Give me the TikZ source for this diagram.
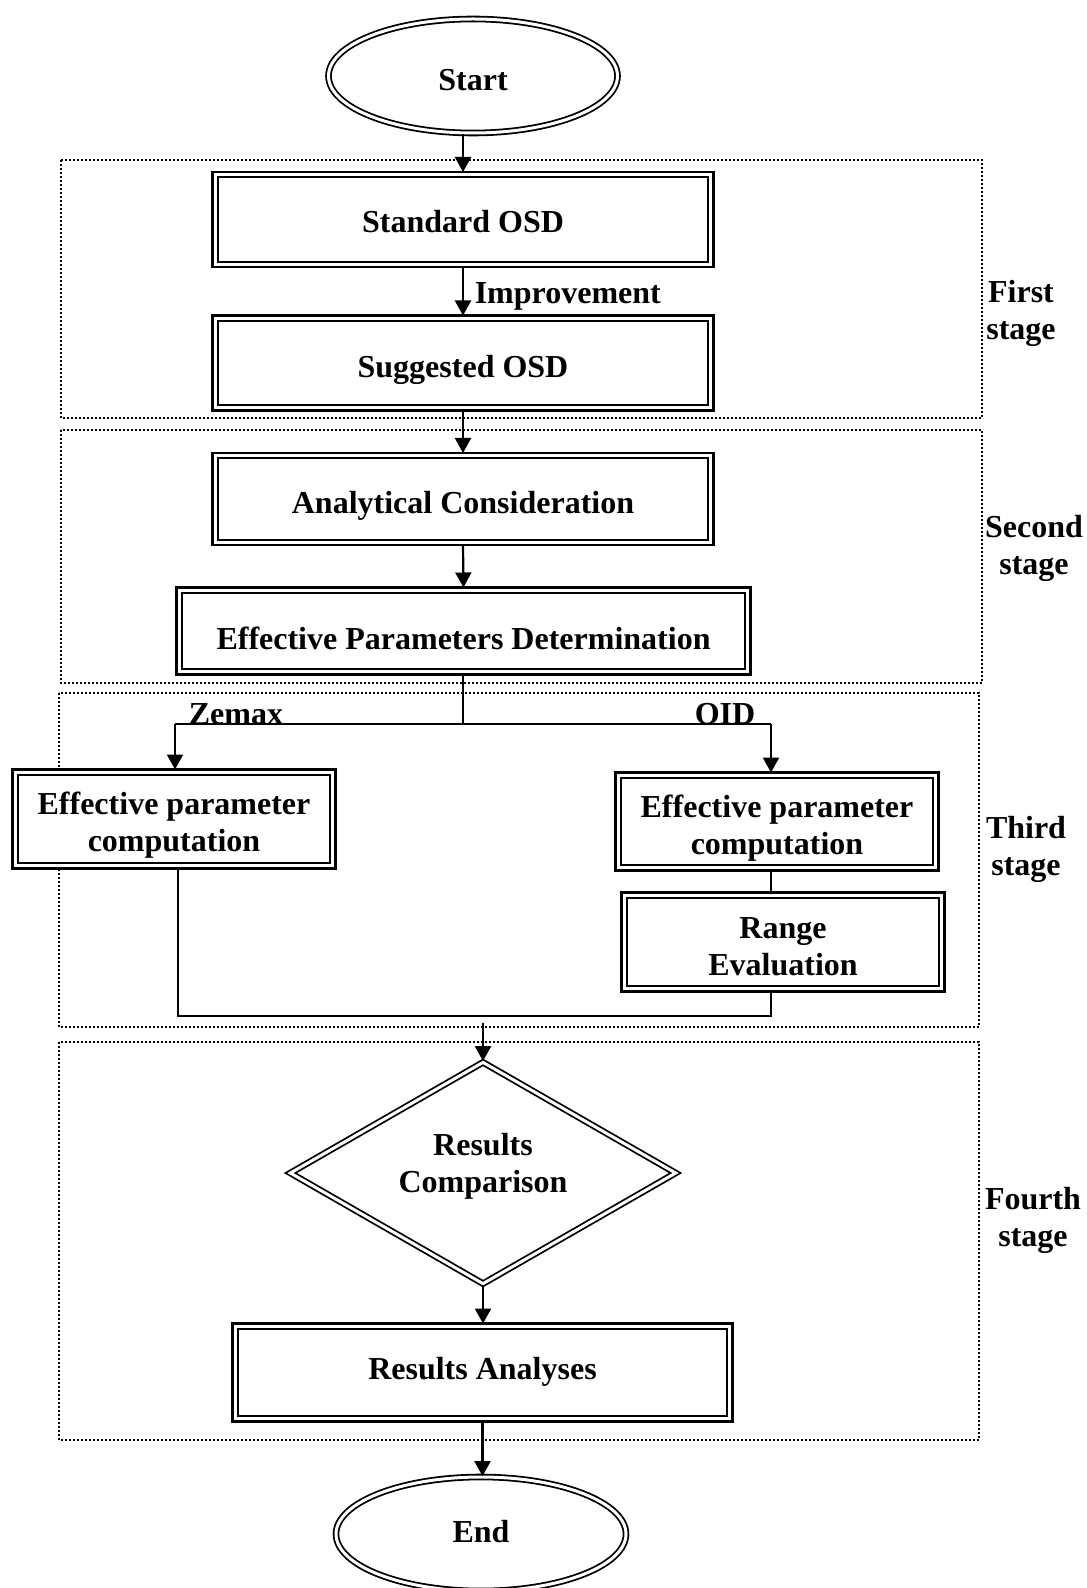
\documentclass[tikz,border=0pt]{standalone}
\usepackage{fontspec}
\setmainfont{Liberation Serif}
\usetikzlibrary{shapes.geometric,arrows.meta}

% shift a line of text vertically without changing its box
\newcommand{\txtdown}[2]{\raisebox{-#1}[\height][\depth]{#2}}

\begin{document}
\begin{tikzpicture}[x=0.5pt,y=-0.5pt,
  font=\fontsize{16}{18.5}\selectfont\bfseries,
  % thick outer frame with a thinner frame drawn just inside it
  dbox/.style={draw, fill=white, rectangle, line width=1.4pt, inner sep=0pt, outer sep=0pt,
    align=center,
    path picture={\draw[line width=0.9pt]
      ([shift={(2.65pt,-2.65pt)}]path picture bounding box.north west) rectangle
      ([shift={(-2.65pt,2.65pt)}]path picture bounding box.south east);}},
  term/.style={draw, fill=white, ellipse, double, line width=0.9pt, double distance=1.5pt,
    inner sep=0pt, minimum height=57pt},
  decide/.style={draw, fill=white, diamond, double, line width=0.9pt, double distance=1.5pt,
    inner sep=0pt, aspect=1.75, minimum width=193pt, minimum height=111pt, align=center},
  stagebox/.style={draw, line width=0.6pt, dash pattern=on 0.9pt off 1.1pt},
  stagelabel/.style={align=center},
  flow/.style={line width=1.1pt, -{Triangle[width=8pt,length=7.5pt]}},
  link/.style={line width=1.1pt}]

\useasboundingbox (0,0) rectangle (1086,1588);

% stage frames
\draw[stagebox] (61,160) rectangle (982,418);
\draw[stagebox] (61,430) rectangle (982,683);
\draw[stagebox] (59,693) rectangle (979,1027);
\draw[stagebox] (59,1042) rectangle (979,1440);

% stage names
\node[stagelabel] (s1) at (1021,313) {First\\stage};
\node[stagelabel] (s2) at (1034,548) {Second\\stage};
\node[stagelabel] (s3) at (1026,849) {Third\\stage};
\node[stagelabel] (s4) at (1033,1220) {Fourth\\stage};

% terminals
\node[term, minimum width=144.5pt] (start) at (473,76) {\txtdown{2pt}{Start}};
\node[term, minimum width=145pt] (end) at (481,1534) {\txtdown{-1pt}{End}};

% first stage
\node[dbox, minimum width=250.5pt, minimum height=47.5pt] (std) at (463,219.5) {\txtdown{1pt}{Standard OSD}};
\node[dbox, minimum width=250.5pt, minimum height=47.5pt] (sug) at (463,363) {\txtdown{3.5pt}{Suggested OSD}};

% second stage
\node[dbox, minimum width=250.5pt, minimum height=46pt] (ana) at (463,499) {\txtdown{3.5pt}{Analytical Consideration}};
\node[dbox, minimum width=287pt, minimum height=43.5pt] (epd) at (463.5,631) {\txtdown{3.5pt}{Effective Parameters Determination}};

% third stage
\node[dbox, minimum width=161.5pt, minimum height=49.5pt] (leff) at (174,819)
  {\txtdown{3pt}{Effective parameter}\\\txtdown{3pt}{computation}};
\node[dbox, minimum width=161.5pt, minimum height=49pt] (reff) at (777,821.5)
  {\txtdown{3.5pt}{Effective parameter}\\\txtdown{3.5pt}{computation}};
\node[dbox, minimum width=161.5pt, minimum height=49.5pt] (range) at (783,942)
  {\txtdown{2.5pt}{Range}\\\txtdown{2.5pt}{Evaluation}};

% fourth stage
\node[decide] (cmp) at (483,1173) {\txtdown{-3.5pt}{Results}\\\txtdown{-3.5pt}{Comparison}};
\node[dbox, minimum width=250pt, minimum height=49pt] (ras) at (482.5,1372.5) {\txtdown{-0.5pt}{Results Analyses}};

% junction points
\coordinate (split) at (463,724);
\coordinate (zl) at (175,724);
\coordinate (zr) at (771,724);
\coordinate (jl) at (178,1016);
\coordinate (jr) at (771,1016);
\coordinate (jin) at (483,1023);

% connectors
\draw[flow] (std.north |- start.south) -- (std.north);
\draw[flow] (std.south) -- node[anchor=west, xshift=2pt, yshift=-2.5pt] (imp) {Improvement} (sug.north);
\draw[flow] (sug.south) -- (ana.north);
\draw[flow] (ana.south) -- (epd.north);
\draw[link] (epd.south -| split) -- (split);
\draw[link] (zl) -- (zr);
\draw[flow] (zl) -- (zl |- leff.north);
\draw[flow] (zr) -- (zr |- reff.north);
\node[anchor=base] (zemax) at (236,724) {Zemax};
\node[anchor=base] (oid) at (725,724) {OID};
\draw[link] (zr |- reff.south) -- (zr |- range.north);
\draw[link] (leff.south -| jl) -- (jl) -- (jr) -- (jr |- range.south);
\draw[flow] (jin) -- (cmp.north);
\draw[flow] (cmp.south) -- (ras.north -| cmp.south);
\draw[flow] (ras.south) -- (ras.south |- end.north);

\end{tikzpicture}
\end{document}
